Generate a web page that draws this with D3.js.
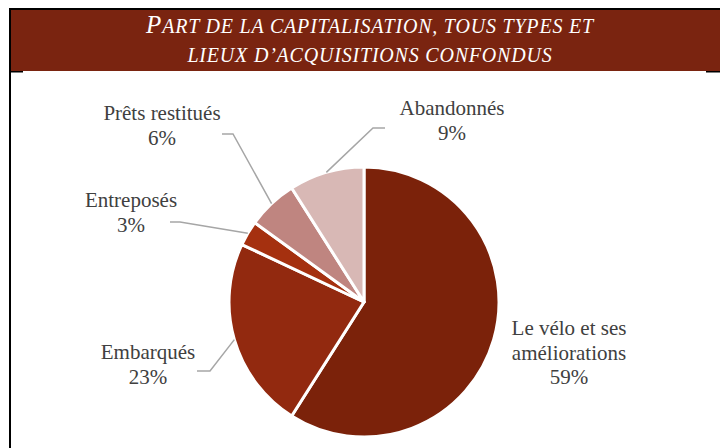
<!DOCTYPE html>
<html lang="fr">
<head>
<meta charset="utf-8">
<title>Part de la capitalisation</title>
<style>
  body { margin: 0; background: #fff; }
  svg { display: block; font-family: "Liberation Serif", "Times New Roman", serif; }
  .label { fill: #404040; font-size: 21px; }
  .title { fill: #fff; font-size: 20px; font-style: italic; letter-spacing: 0.8px; }
</style>
</head>
<body>
<svg id="chart" width="720" height="448"></svg>
<script src="https://cdn.jsdelivr.net/npm/d3@7"></script>
<script>
// données
var categories = ['Le vélo et ses améliorations', 'Embarqués', 'Entreposés', 'Prêts restitués', 'Abandonnés'];
var values = [59, 23, 3, 6, 9];
var colors = ['#7b220a', '#92290f', '#a5300f', '#bf8580', '#d8b8b5'];
var titleLines = ['Part de la capitalisation, tous types et', 'lieux d\u2019acquisitions confondus'];

// lignes des étiquettes + position (mise en page)
var labelLines = [
  ['Le vélo et ses', 'améliorations', '59%'],
  ['Embarqués', '23%'],
  ['Entreposés', '3%'],
  ['Prêts restitués', '6%'],
  ['Abandonnés', '9%']
];
var labelPos = [
  {x: 569, y: 335, elbow: null},
  {x: 148, y: 359, elbow: [[210, 371], [197, 371]]},
  {x: 131, y: 207, elbow: [[180, 222], [170, 222]]},
  {x: 162, y: 120, elbow: [[233, 134], [222, 134]]},
  {x: 452, y: 115, elbow: [[373, 128], [385, 128]]}
];

var svg = d3.select('#chart');
var W = +svg.attr('width');

// cadre
svg.append('rect').attr('x', 11).attr('y', 10).attr('width', W - 11).attr('height', 61).attr('fill', '#7a2410');
svg.append('rect').attr('x', 9).attr('y', 8).attr('width', W - 9).attr('height', 2).attr('fill', '#000');
svg.append('rect').attr('x', 9).attr('y', 8).attr('width', 2).attr('height', 440).attr('fill', '#000');
svg.append('rect').attr('x', 11).attr('y', 71).attr('width', 12).attr('height', 1.5).attr('fill', '#000');
svg.append('rect').attr('x', 706).attr('y', 71).attr('width', 14).attr('height', 1.5).attr('fill', '#000');

// titre en petites capitales (première lettre plus grande)
titleLines.forEach(function(s, i) {
  var t = svg.append('text')
    .attr('class', 'title')
    .attr('x', 370)
    .attr('y', 33 + i * 29)
    .attr('text-anchor', 'middle');
  if (i === 0) {
    t.append('tspan').style('font-size', '25px').text(s.charAt(0).toUpperCase());
    t.append('tspan').text(s.slice(1).toUpperCase());
  } else {
    t.append('tspan').text(s.toUpperCase());
  }
});

// camembert
var cx = 364, cy = 302, r = 135;
var g = svg.append('g').attr('transform', 'translate(' + cx + ',' + cy + ')');

var pie = d3.pie().sort(null).value(function(d) { return d; });
var arcs = pie(values);
var arc = d3.arc().innerRadius(0).outerRadius(r);
var edge = d3.arc().innerRadius(r).outerRadius(r);

g.selectAll('path.slice')
  .data(arcs)
  .enter().append('path')
  .attr('class', 'slice')
  .attr('d', arc)
  .attr('fill', function(d, i) { return colors[i]; })
  .attr('stroke', '#fff')
  .attr('stroke-width', 3)
  .attr('stroke-linejoin', 'round');

// lignes de rappel
var line = d3.line();
arcs.forEach(function(d, i) {
  var p = labelPos[i];
  if (!p.elbow) return;
  var c = edge.centroid(d);
  var pts = [[c[0] + cx, c[1] + cy]].concat(p.elbow);
  svg.append('path')
    .attr('d', line(pts))
    .attr('fill', 'none')
    .attr('stroke', '#a6a6a6')
    .attr('stroke-width', 1.5);
});

// étiquettes
labelLines.forEach(function(lines, i) {
  var t = svg.append('text')
    .attr('class', 'label')
    .attr('text-anchor', 'middle')
    .attr('x', labelPos[i].x)
    .attr('y', labelPos[i].y);
  lines.forEach(function(s, j) {
    t.append('tspan').attr('x', labelPos[i].x).attr('dy', j === 0 ? 0 : 24.5).text(s);
  });
});
</script>
</body>
</html>
